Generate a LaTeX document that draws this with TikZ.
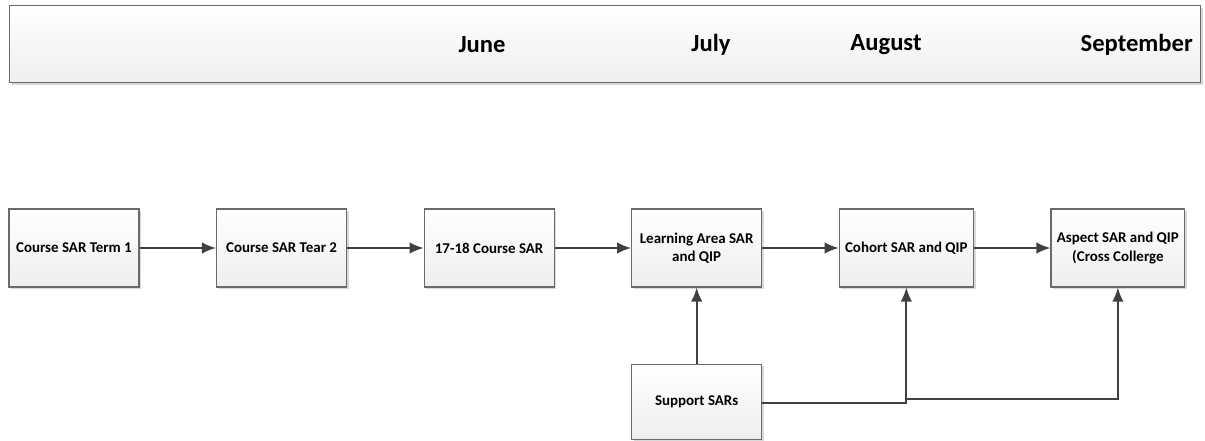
\documentclass[tikz,border=0pt]{standalone}
\usepackage{fontspec}
\setmainfont{Carlito}
\usetikzlibrary{positioning,shadows,arrows,arrows.meta}
\tikzset{>=latex}
\definecolor{linegray}{HTML}{404040}
\definecolor{boxgray}{HTML}{6A6A6A}

\begin{document}
\begin{tikzpicture}[>={Latex[length=8pt,width=6.5pt]}, node distance = 1.53cm,
    box/.style={draw=boxgray, line width=0.6pt, top color=white, bottom color=gray!13,
      drop shadow={shadow xshift=1.2pt, shadow yshift=-1.2pt, fill=gray!30, opacity=1},
      minimum width=2.6cm, minimum height=1.56cm, align=center,
      font=\fontsize{8.5}{10.5}\selectfont\bfseries},
    month/.style={font=\fontsize{14}{16}\selectfont\bfseries},
    flow/.style={->, draw=linegray, line width=1pt}]
    \useasboundingbox (0,0) rectangle (24.1,-8.8);
    % timeline header
    \node[box, minimum width=23.82cm, minimum height=1.54cm, anchor=north west] (header) at (0.18,-0.1) {};
    \node[month] (june) at (9.64,-0.9) {June};
    \node[month] (july) at (14.22,-0.9) {July};
    \node[month] (august) at (17.72,-0.9) {August};
    \node[month, anchor=east] (september) at (23.98,-0.9) {September};
    % main flow
    \node[box] (term1) at (1.48,-4.96) {Course SAR Term 1};
    \node[box, right=of term1] (tear2) {Course SAR Tear 2};
    \node[box, right=of tear2] (course) {17-18 Course SAR};
    \node[box, right=of course] (area) {Learning Area SAR\\and QIP};
    \node[box, right=of area] (cohort) {Cohort SAR and QIP};
    \node[box, right=of cohort] (aspect) {Aspect SAR and QIP\\(Cross Collerge};
    \node[box, below=1.52cm of area, minimum height=1.5cm] (support) {Support SARs};
    \draw[flow] (term1) -- (tear2);
    \draw[flow] (tear2) -- (course);
    \draw[flow] (course) -- (area);
    \draw[flow] (area) -- (cohort);
    \draw[flow] (cohort) -- (aspect);
    % support links
    \draw[flow] (support) -- (area);
    \draw[flow] ([yshift=-1pt]support.east) -- ([yshift=-1pt]support.east -| cohort.south) -- (cohort.south);
    \draw[flow] ([yshift=1.6pt]support.east -| cohort.south) -- ([yshift=1.6pt]support.east -| aspect.south) -- (aspect.south);
\end{tikzpicture}
\end{document}
